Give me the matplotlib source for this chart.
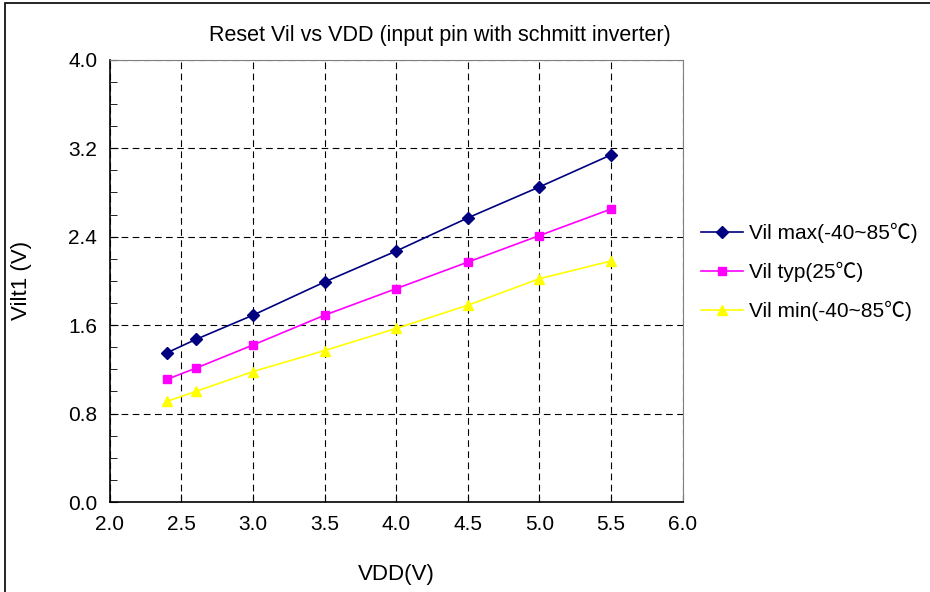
import matplotlib.pyplot as plt
from matplotlib.patches import Rectangle
from matplotlib.ticker import MultipleLocator

plt.rcParams['font.family'] = ['Liberation Sans', 'Noto Sans CJK SC', 'DejaVu Sans']

vdd = [2.4, 2.6, 3.0, 3.5, 4.0, 4.5, 5.0, 5.5]
vil_max = [1.35, 1.47, 1.69, 1.99, 2.27, 2.57, 2.85, 3.14]
vil_typ = [1.11, 1.21, 1.42, 1.69, 1.93, 2.17, 2.41, 2.65]
vil_min = [0.91, 1.00, 1.18, 1.37, 1.57, 1.78, 2.02, 2.18]
labels = ['Vil max(-40~85\u2103)', 'Vil typ(25\u2103)', 'Vil min(-40~85\u2103)']

fig = plt.figure(figsize=(9.3, 5.92), dpi=100)
fig.patches.append(Rectangle((0.005, -0.5), 2, 1.495, transform=fig.transFigure,
                             fill=False, edgecolor='black', linewidth=1.2))
ax = fig.add_axes([0.118, 0.152, 0.616, 0.747])

ax.plot(vdd, vil_max, marker='D', color='#000080', markersize=6, linewidth=1.2, label=labels[0])
ax.plot(vdd, vil_typ, marker='s', color='#FF00FF', markersize=6, linewidth=1.2, label=labels[1])
ax.plot(vdd, vil_min, marker='^', color='#FFFF00', markersize=7, linewidth=1.2, label=labels[2])

ax.set_xlim(2.0, 6.0)
ax.set_ylim(0.0, 4.0)
ax.xaxis.set_major_locator(MultipleLocator(0.5))
ax.yaxis.set_major_locator(MultipleLocator(0.8))
ax.yaxis.set_minor_locator(MultipleLocator(0.2))
ax.xaxis.set_major_formatter(plt.FormatStrFormatter('%.1f'))
ax.yaxis.set_major_formatter(plt.FormatStrFormatter('%.1f'))
ax.tick_params(axis='both', which='both', direction='in', labelsize=15, pad=9)
ax.tick_params(which='major', length=6)
ax.tick_params(which='minor', length=5)
ax.grid(True, which='major', linestyle=(0, (6, 4)), color='black', linewidth=0.8)

for s in ['top', 'right']:
    ax.spines[s].set_color('#808080')
ax.spines['left'].set_linewidth(1.2)
ax.spines['bottom'].set_linewidth(1.2)

fig.text(0.473, 0.94, 'Reset Vil vs VDD (input pin with schmitt inverter)', fontsize=15.5,
         ha='center', va='center')
ax.set_xlabel('VDD(V)', fontsize=16, labelpad=22)
ax.set_ylabel('Vilt1 (V)', fontsize=16, labelpad=26)

ax.legend(loc='center left', bbox_to_anchor=(1.0, 0.52), frameon=False, fontsize=15,
          handlelength=2.0, handletextpad=0.3, labelspacing=0.9, borderaxespad=0.5)

plt.savefig('out.png', dpi=100)
